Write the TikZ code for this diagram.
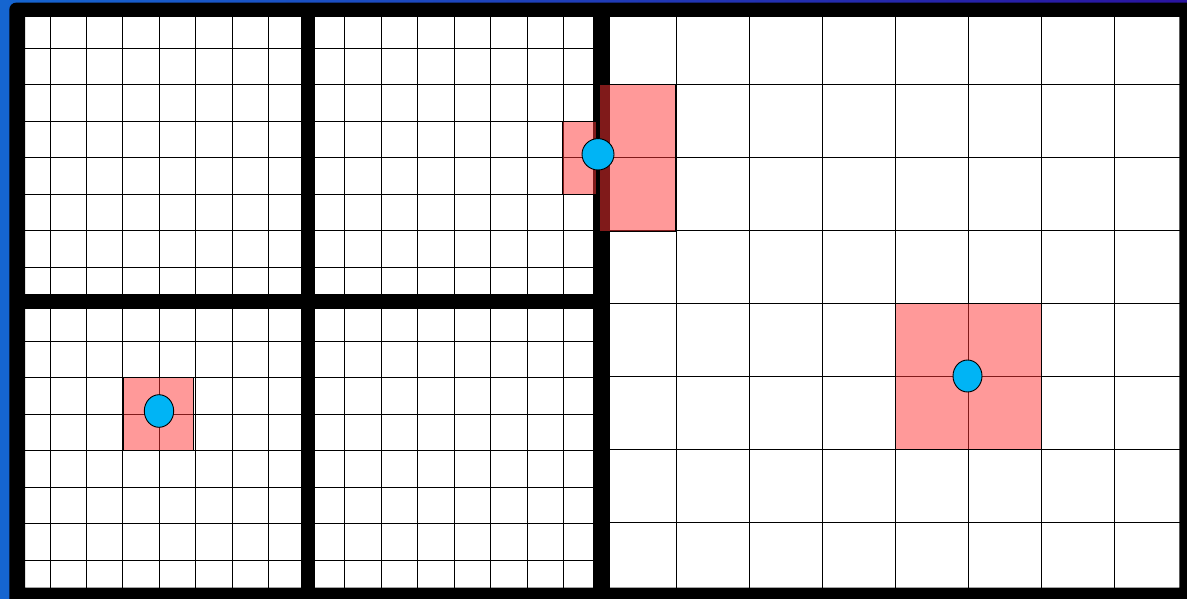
\documentclass[tikz,border=0pt]{standalone}
\usetikzlibrary{positioning}
\definecolor{fondoizq}{RGB}{21,101,208}
\definecolor{fondoder}{RGB}{42,20,160}
\definecolor{zonaroja}{RGB}{255,52,52}
\definecolor{celeste}{RGB}{0,180,245}
\tikzset{
    celda/.style={
        draw=black,
        line width=0.9pt
    },
    barra/.style={
        fill=black
    },
    zona/.style={
        fill=zonaroja,
        fill opacity=0.5,
        draw=black,
        line width=0.9pt
    },
    punto/.style={
        fill=celeste,
        draw=black,
        line width=0.9pt
    }
}

\begin{document}
\begin{tikzpicture}[
    x=1pt,
    y=-1pt
]

    % Fondo
    \useasboundingbox (0,0) rectangle (1187,599);
    \clip (0,0) rectangle (1187,599);
    \shade[left color=fondoizq, right color=fondoder] (0,0) rectangle (1187,599);
    \fill[white] (25,17) rectangle (1180,588);

    % Rejilla fina (lado izquierdo)
    \foreach \k in {0,...,6} {
        \draw[celda] (50+36.45*\k,17) -- (50+36.45*\k,588);
        \draw[celda] (344.7+36.45*\k,17) -- (344.7+36.45*\k,588);
        \draw[celda] (25,48+36.5*\k) -- (600,48+36.5*\k);
        \draw[celda] (25,341+36.5*\k) -- (600,341+36.5*\k);
    }

    % Rejilla gruesa (lado derecho)
    \foreach \k in {0,...,6} {
        \draw[celda] (676+73*\k,17) -- (676+73*\k,588);
        \draw[celda] (605,84+73*\k) -- (1180,84+73*\k);
    }

    % Marco y divisiones
    \fill[barra, even odd rule, rounded corners=7pt]
        (9.3,2.6) rectangle (1200,610)
        [sharp corners] (25,17) rectangle (1179.3,587.7);
    \fill[barra] (300.7,17) rectangle (315.3,588);
    \fill[barra] (592.7,17) rectangle (610,588);
    \fill[barra] (25,294.3) rectangle (592.7,309.3);

    % Zonas
    \draw[zona] (123.3,377.3) rectangle (193.3,450);
    \draw[zona] (562.3,121.3) rectangle (596.7,194.3);
    \draw[zona] (599.3,84.3)  rectangle (675.5,231);
    \draw[zona] (895,303)     rectangle (1041,449);

    % Puntos
    \draw[punto] (159,411)     ellipse [x radius=14.7, y radius=16.3];
    \draw[punto] (598,154.3)   ellipse [x radius=16,   y radius=15.7];
    \draw[punto] (967.5,376)   ellipse [x radius=14.5, y radius=16];

\end{tikzpicture}
\end{document}
